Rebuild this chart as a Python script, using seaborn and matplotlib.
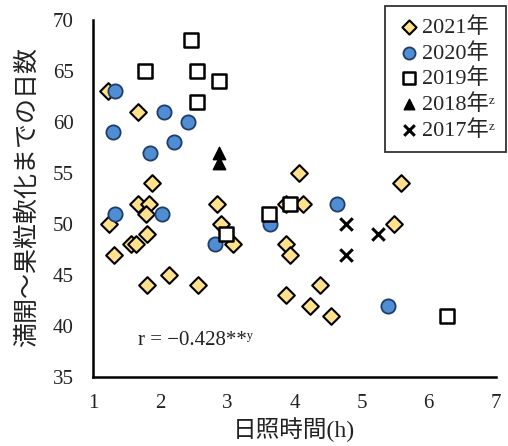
import matplotlib
matplotlib.use("Agg")
import matplotlib.pyplot as plt
import seaborn as sns
import pandas as pd

# ---- data ----
x2021 = [1.22, 1.67, 1.88, 1.67, 1.83, 1.79, 1.24, 1.80, 1.57, 1.64, 1.32, 2.13, 1.80, 2.57,
         2.85, 2.91, 3.09, 4.07, 3.88, 4.13, 3.88, 3.93, 3.88, 4.24, 4.38, 4.55, 5.59, 5.49]
y2021 = [63, 61, 54, 52, 52, 51, 50, 49, 48, 48, 47, 45, 44, 44,
         52, 50, 48, 55, 52, 52, 48, 47, 43, 42, 44, 41, 54, 50]
x2020 = [1.33, 2.06, 1.30, 2.42, 2.21, 1.85, 1.33, 2.03, 2.82, 3.64, 4.64, 5.40]
y2020 = [63, 61, 59, 60, 58, 57, 51, 51, 48, 50, 52, 42]
x2019 = [2.46, 1.78, 2.55, 2.87, 2.55, 2.98, 3.62, 3.94, 6.28]
y2019 = [68, 65, 65, 64, 62, 49, 51, 52, 41]
x2018 = [2.88, 2.88]
y2018 = [57, 56]
x2017 = [4.77, 5.25, 4.77]
y2017 = [50, 49, 47]
labels = ["2021年", "2020年", "2019年", "2018年ᶻ", "2017年ᶻ"]
xticks = [1, 2, 3, 4, 5, 6, 7]
yticks = [35, 40, 45, 50, 55, 60, 65, 70]

sns.set_style("white")
FAM = ["Liberation Serif", "Noto Sans CJK JP", "DejaVu Sans"]
plt.rcParams["font.family"] = FAM

fig = plt.figure(figsize=(5.08, 4.46), dpi=100)
ax = fig.add_axes([0.183, 0.155, 0.793, 0.80])

styles = [
    dict(marker="D", s=72, color="#FFE08C", edgecolor="black", linewidth=1.5),
    dict(marker="o", s=105, color="#4F8ED2", edgecolor="#1F3C6C", linewidth=1.3),
    dict(marker="s", s=95, color="white", edgecolor="black", linewidth=1.8),
    dict(marker="^", s=80, color="black", edgecolor="black", linewidth=1),
    dict(marker="x", s=80, color="black", linewidth=2.2),
]
sets = [(x2021, y2021), (x2020, y2020), (x2019, y2019), (x2018, y2018), (x2017, y2017)]
for (xs, ys), lab, st in zip(sets, labels, styles):
    df = pd.DataFrame({"x": xs, "y": ys})
    sns.scatterplot(data=df, x="x", y="y", ax=ax, label=lab, zorder=3, **st)

ax.set_xlim(1, 7)
ax.set_ylim(35, 70)
ax.set_xticks(xticks)
ax.set_yticks(yticks)
ax.tick_params(direction="in", length=6, width=1.5, labelsize=15, colors="black")
ax.tick_params(axis="y", pad=14, labelcolor="#222222")
ax.tick_params(axis="x", pad=12, labelcolor="#222222")
for sp in ["top", "right"]:
    ax.spines[sp].set_visible(False)
for sp in ["left", "bottom"]:
    ax.spines[sp].set_linewidth(1.8)
    ax.spines[sp].set_color("black")
ax.set_xlabel("")
ax.set_ylabel("")
fig.text(294 / 508, 1 - 430 / 446, "日照時間(h)", fontsize=17, color="#222222",
         ha="center", va="center")
fig.text(27 / 508, 1 - 197 / 446, "満開～果粒軟化までの日数", fontsize=18, color="#222222",
         ha="center", va="center", rotation=90)

ax.text(1.67, 38.6, "r = −0.428**ʸ", fontsize=15, va="center", ha="left", color="#222222")

leg = ax.legend(loc="upper right", bbox_to_anchor=(506 / 508, 1 - 6 / 446), bbox_transform=fig.transFigure,
                frameon=True, fancybox=False, edgecolor="black", fontsize=16,
                handlelength=1.1, handletextpad=0.05, borderpad=0.5, labelspacing=0.22,
                markerscale=0.85, borderaxespad=0)
leg.get_frame().set_linewidth(1.3)
leg.get_frame().set_facecolor("white")

fig.savefig("out.png", dpi=100)
